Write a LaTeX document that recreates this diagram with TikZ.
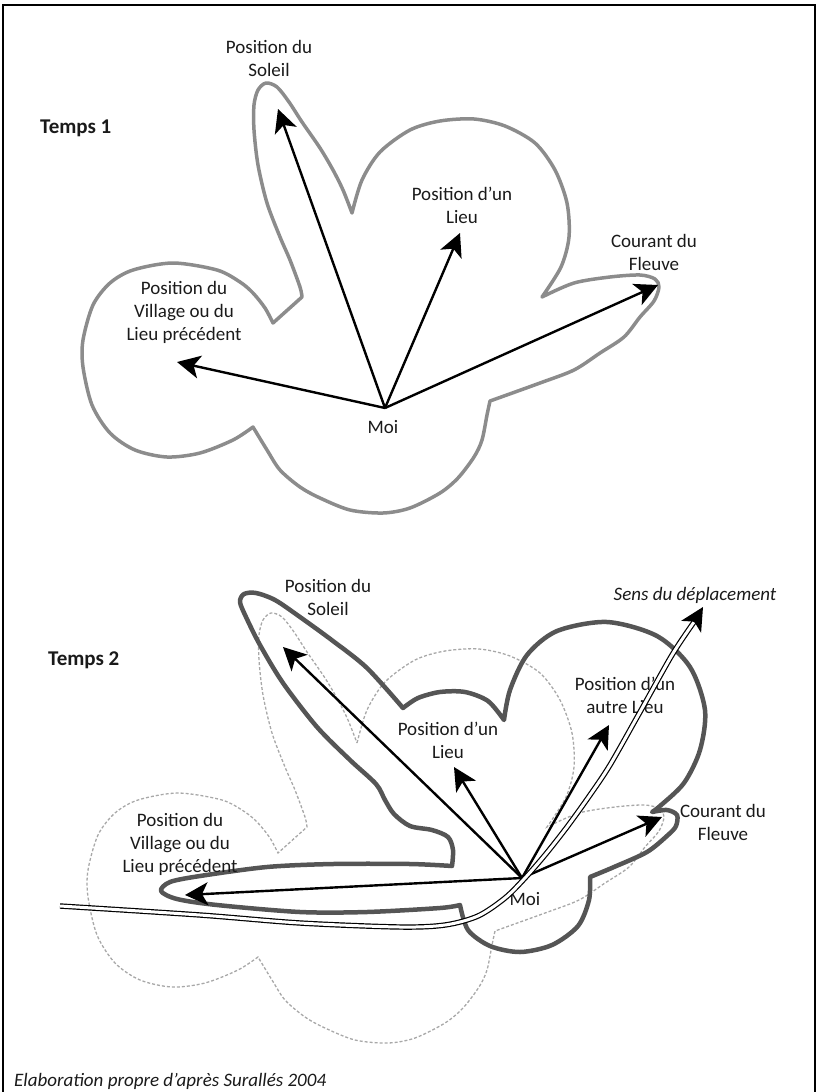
\documentclass[tikz,border=0pt]{standalone}
\usepackage{fontspec}
\setmainfont{Carlito}
\usetikzlibrary{arrows.meta}
\definecolor{outlineA}{HTML}{8C8C8C}
\definecolor{outlineB}{HTML}{555555}
\definecolor{ghost}{HTML}{A8A8A8}
\definecolor{txt}{HTML}{1A1A1A}
\tikzset{
  vec/.style={line width=2.4pt, black, -{Stealth[length=23pt,width=23pt,inset=6pt]}},
  lab/.style={align=center, text=txt, font=\fontsize{19}{23}\selectfont, inner sep=0pt},
  ttl/.style={anchor=west, text=txt, font=\fontsize{21}{25}\selectfont\bfseries, inner sep=0pt},
  shapeA/.style={draw=outlineA, line width=3.5pt, line join=round},
  shapeB/.style={draw=outlineB, line width=4.5pt, line join=round},
  shapeC/.style={draw=ghost, line width=1.3pt, dash pattern=on 3pt off 2pt},
  path2/.style={double=white, draw=black, line width=1.2pt, double distance=3pt},
}
\newcommand{\tempsoneshape}{%
  plot[smooth] coordinates {(352,213) (362,180) (380,152) (410,130) (440,121) (474,119) (505,126) (535,143) (555,170) (567,203) (569,237) (561,267) (542,297)}
  -- plot[smooth] coordinates {(542,297) (574,283) (610,277) (640,275) (655,279) (659,287) (654,301) (640,317) (624,337) (600,353) (574,370) (540,383) (490,401)}
  -- plot[smooth] coordinates {(490,401) (487,415) (482,440) (474,457) (458,478) (440,493) (410,508) (383,513) (350,510) (320,498) (300,487) (280,470) (267,450) (253,427)}
  -- plot[smooth] coordinates {(253,427) (233,440) (200,453) (167,457) (135,450) (110,433) (92,405) (83,367) (83,340) (93,305) (110,283) (133,270) (173,263) (217,270) (240,282) (253,293) (265,308) (273,323)}
  -- (302,297)
  -- plot[smooth] coordinates {(302,297) (300,287) (290,260) (280,237) (267,203) (258,165) (254,130) (254,105) (258,90) (266,83) (277,87) (289,102) (302,122) (320,148) (333,170) (343,190) (352,213)}
  -- cycle}
\begin{document}
\begin{tikzpicture}[x=1pt,y=-1pt]
\useasboundingbox (0,0) rectangle (817,1092);
% frame
\draw[line width=1.5pt, black] (3,1092) -- (3,5) -- (815,5) -- (815,1092);

% ---------------- Temps 1 ----------------
\draw[shapeA] \tempsoneshape;
\coordinate (o1) at (385,408);
\coordinate (s1) at (278,109);
\coordinate (l1) at (460,233);
\coordinate (f1) at (658,285);
\coordinate (v1) at (177,362);
\draw[vec] (o1) -- (s1);
\draw[vec] (o1) -- (l1);
\draw[vec] (o1) -- (f1);
\draw[vec] (o1) -- (v1);
\node[ttl] (t1) at (40,128) {Temps 1};
\node[lab] (soleil1) at (269,58) {Position du\\Soleil};
\node[lab] (lieu1) at (462,205) {Position d'un\\Lieu};
\node[lab] (fleuve1) at (654,252) {Courant du\\Fleuve};
\node[lab] (village1) at (184,312) {Position du\\Village ou du\\Lieu précédent};
\node[lab] (moi1) at (383,427) {Moi};

% ---------------- Temps 2 ----------------
\draw[shapeC, shift={(5,530)}] \tempsoneshape;
\draw[shapeB]
  plot[smooth] coordinates {(452,866) (453,850) (448,837) (432,830) (410,826) (394,814) (385,800) (376,784) (350,760) (317,727) (283,683) (260,645) (246,617) (240,602) (244,594) (256,593) (275,600) (300,617) (333,641) (367,668) (403,708)}
  -- plot[smooth] coordinates {(403,708) (418,698) (440,692) (465,692) (488,701) (504,720)}
  -- plot[smooth] coordinates {(504,720) (510,690) (527,655) (557,631) (607,622) (657,636) (690,667) (705,710) (700,750) (684,783) (660,806) (652,812)}
  -- plot[smooth] coordinates {(652,812) (667,810) (677,815) (676,826) (668,835) (647,852) (614,867) (590,877)}
  -- plot[smooth] coordinates {(590,877) (589,900) (578,926) (552,945) (520,952) (490,946) (468,930) (460,905)}
  -- plot[smooth] coordinates {(460,905) (440,908) (367,912) (300,912) (217,905) (177,899) (161,891) (170,882) (200,876) (267,867) (333,864) (410,864) (452,866)}
  -- cycle;
\coordinate (o2) at (522,878);
\coordinate (s2) at (283,647);
\coordinate (l2) at (454,767);
\coordinate (a2) at (609,725);
\coordinate (f2) at (662,817);
\coordinate (v2) at (185,895);
\draw[vec] (o2) -- (s2);
\draw[vec] (o2) -- (l2);
\draw[vec] (o2) -- (a2);
\draw[vec] (o2) -- (f2);
\draw[vec] (o2) -- (v2);
\node[ttl] (t2) at (48,660) {Temps 2};
\node[lab] (soleil2) at (328,597) {Position du\\Soleil};
\node[lab] (lieu2) at (448,740) {Position d'un\\Lieu};
\node[lab] (autre2) at (625,695) {Position d'un\\autre Lieu};
\node[lab] (fleuve2) at (723,822) {Courant du\\Fleuve};
\node[lab] (village2) at (180,844) {Position du\\Village ou du\\Lieu précédent};
\node[lab] (moi2) at (525,899) {Moi};
\node[lab, font=\fontsize{19}{23}\selectfont\itshape] (sens) at (695,595) {Sens du déplacement};

% path of displacement (double line)
\coordinate (dstart) at (60,906);
\coordinate (dend) at (694,622);
\coordinate (dtip) at (703,607);
\draw[path2] plot[smooth] coordinates {(dstart) (200,915) (300,923) (400,927) (445,925) (478,916) (505,898) (525,878) (545,855) (567,827) (590,795) (610,765) (640,712) (672,655) (dend)};
\draw[vec] (dend) -- (dtip);

% footer
\node[anchor=west, text=txt, inner sep=0pt, font=\fontsize{19}{23}\selectfont\itshape] (src) at (14,1081) {Elaboration propre d'après Surallés 2004};
\end{tikzpicture}
\end{document}
